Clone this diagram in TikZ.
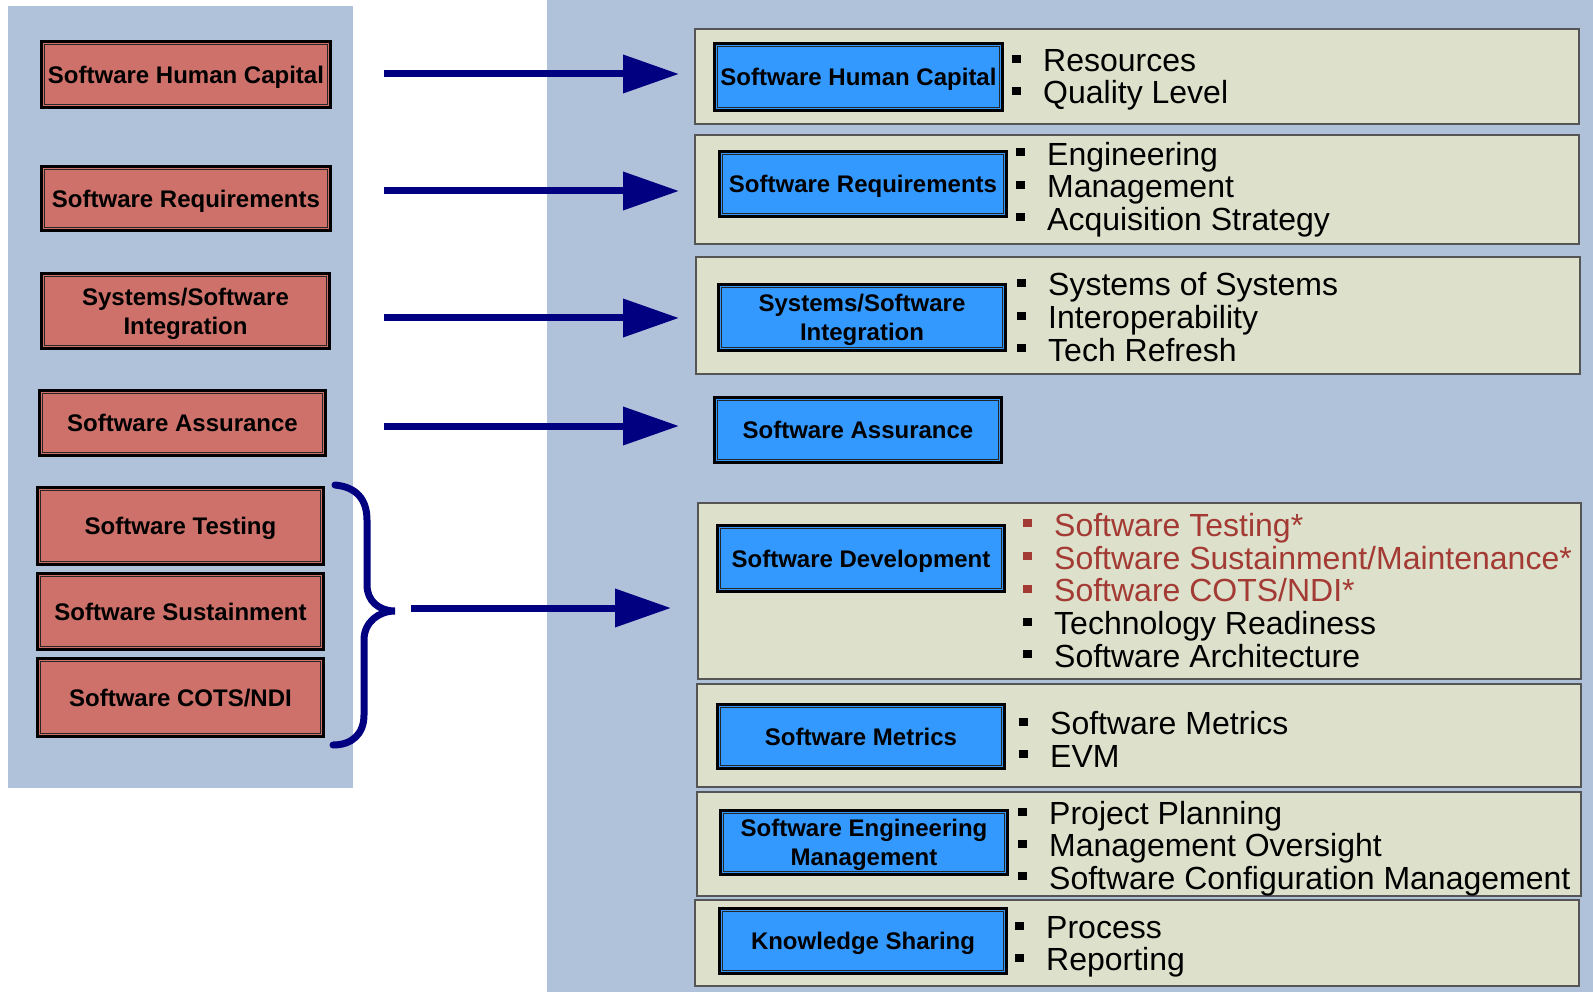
\documentclass[tikz,border=0pt]{standalone}
\usepackage{fontspec}
\setmainfont{Liberation Sans}
\usetikzlibrary{arrows.meta,calc}
\definecolor{panel}{RGB}{176,194,218}
\definecolor{redfill}{RGB}{205,113,106}
\definecolor{bluefill}{RGB}{51,153,255}
\definecolor{beige}{RGB}{221,224,203}
\definecolor{navyc}{RGB}{0,0,128}
\definecolor{redtext}{RGB}{163,59,52}
\definecolor{beigeline}{RGB}{85,85,85}
\newcommand\listline[5][black]{%
  \node[listtext, text=#1] (#2) at (#3,#4) {#5};
  \fill[#1] ($(#2.base west)+(-31,-17)$) rectangle ($(#2.base west)+(-22,-9)$);}
\begin{document}
\begin{tikzpicture}[x=1pt,y=-1pt,
  boxbase/.style={draw=black, line width=3.4pt, inner sep=0pt, align=center, text depth=0pt,
    font=\fontsize{24}{29}\selectfont\bfseries},
  redbox/.style={boxbase, fill=redfill},
  bluebox/.style={boxbase, fill=bluefill},
  innerline/.style={draw=black!85, line width=0.9pt},
  panelbg/.style={fill=panel},
  graybox/.style={draw=beigeline, line width=1.3pt, fill=beige},
  listtext/.style={inner sep=0pt, anchor=base west, font=\fontsize{32}{32}\selectfont},
  arr/.style={draw=navyc, line width=7pt, -{Triangle[length=56pt,width=37pt]}},
  bracestyle/.style={draw=navyc, line width=7pt, line cap=round},
]
\useasboundingbox[fill=white] (0,0) rectangle (1593,992);
% panels
\fill[panelbg] (8,6) rectangle (353,788);
\fill[panelbg] (547,0) rectangle (1593,992);
% beige boxes
\draw[graybox] (695,29) rectangle (1579,124);
\draw[graybox] (695,135) rectangle (1579,244);
\draw[graybox] (696,257) rectangle (1580,374);
\draw[graybox] (698,503) rectangle (1581,679);
\draw[graybox] (697,684) rectangle (1581,787);
\draw[graybox] (697,792) rectangle (1581,896);
\draw[graybox] (695,900) rectangle (1579,986);
% red boxes
\node[redbox, minimum width=288.6, minimum height=65.6] (r1) at (186,74.5) {Software Human Capital};
\node[redbox, minimum width=288.6, minimum height=63.6] (r2) at (186,198.5) {Software Requirements};
\node[redbox, minimum width=287.6, minimum height=74.6] (r3) at (185.5,311) {Systems/Software\\Integration};
\node[redbox, minimum width=285.6, minimum height=64.6] (r4) at (182.5,423) {Software Assurance};
\node[redbox, minimum width=285.6, minimum height=76.6] (r5) at (180.5,526) {Software Testing};
\node[redbox, minimum width=285.6, minimum height=75.6] (r6) at (180.5,611.5) {Software Sustainment};
\node[redbox, minimum width=285.6, minimum height=77.6] (r7) at (180.5,697.5) {Software COTS/NDI};
% blue boxes
\node[bluebox, minimum width=287.6, minimum height=66.6] (b1) at (858.5,77) {Software Human Capital};
\node[bluebox, minimum width=286.6, minimum height=64.6] (b2) at (863,184) {Software Requirements};
\node[bluebox, minimum width=286.6, minimum height=65.6] (b3) at (862,317.5) {Systems/Software\\Integration};
\node[bluebox, minimum width=286.6, minimum height=64.6] (b4) at (858,430) {Software Assurance};
\node[bluebox, minimum width=286.6, minimum height=65.6] (b5) at (861,558.5) {Software Development};
\node[bluebox, minimum width=286.6, minimum height=63.6] (b6) at (861,736.5) {Software Metrics};
\node[bluebox, minimum width=286.6, minimum height=63.6] (b7) at (864,842.5) {Software Engineering\\Management};
\node[bluebox, minimum width=286.6, minimum height=64.6] (b8) at (863,941) {Knowledge Sharing};
% inner border lines
\foreach \n in {r1,r2,r3,r4,r5,r6,r7,b1,b2,b3,b4,b5,b6,b7,b8}
  \draw[innerline] ($(\n.north west)+(4.3,4.3)$) rectangle ($(\n.south east)+(-4.3,-4.3)$);
% arrows
\coordinate (s1) at (384,74);  \coordinate (e1) at (679,74);
\coordinate (s2) at (384,191); \coordinate (e2) at (679,191);
\coordinate (s3) at (384,318); \coordinate (e3) at (679,318);
\coordinate (s4) at (384,426); \coordinate (e4) at (679,426);
\coordinate (s5) at (411,608); \coordinate (e5) at (671,608);
\draw[arr] (s1) -- (e1);
\draw[arr] (s2) -- (e2);
\draw[arr] (s3) -- (e3);
\draw[arr] (s4) -- (e4);
\draw[arr] (s5) -- (e5);
% brace
\draw[bracestyle] (335,485) .. controls (356,487) and (367,499) .. (367,520) -- (367,585)
  .. controls (367,601) and (379,611) .. (395,611)
  .. controls (379,611) and (364,622) .. (364,640) -- (364,715)
  .. controls (364,734) and (352,745) .. (333,745);
% lists
\listline{l11}{1043}{72}{Resources}
\listline{l12}{1043}{104}{Quality Level}
\listline{l21}{1047}{165.5}{Engineering}
\listline{l22}{1047}{198}{Management}
\listline{l23}{1047}{230.5}{Acquisition Strategy}
\listline{l31}{1048}{296}{Systems of Systems}
\listline{l32}{1048}{329}{Interoperability}
\listline{l33}{1048}{361}{Tech Refresh}
\listline[redtext]{l51}{1054}{536}{Software Testing*}
\listline[redtext]{l52}{1054}{569}{Software Sustainment/Maintenance*}
\listline[redtext]{l53}{1054}{601.5}{Software COTS/NDI*}
\listline{l54}{1054}{634.5}{Technology Readiness}
\listline{l55}{1054}{667}{Software Architecture}
\listline{l61}{1050}{734.5}{Software Metrics}
\listline{l62}{1050}{767}{EVM}
\listline{l71}{1049}{824.5}{Project Planning}
\listline{l72}{1049}{856.5}{Management Oversight}
\listline{l73}{1049}{889}{Software Configuration Management}
\listline{l81}{1046}{938.5}{Process}
\listline{l82}{1046}{970.5}{Reporting}
\end{tikzpicture}
\end{document}
